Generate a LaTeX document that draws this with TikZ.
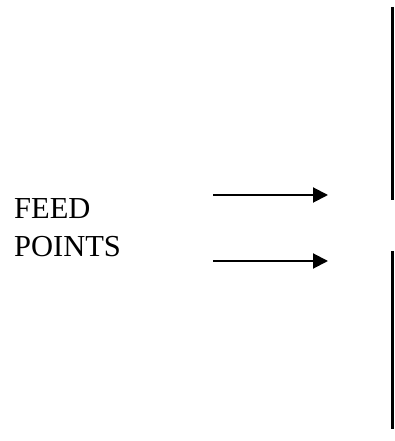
\documentclass[tikz,border=0pt]{standalone}
\usepackage{fontspec}
\setmainfont{Liberation Serif}
\usetikzlibrary{arrows.meta}
\begin{document}
\begin{tikzpicture}[x=1pt,y=1pt,
  feedarrow/.style={line width=2pt,-{Triangle[length=15pt,width=15pt]}},
  element/.style={line width=2.5pt},
  lbl/.style={anchor=base west,inner sep=0pt,font=\fontsize{30.5}{38}\selectfont}]
\useasboundingbox (0,0) rectangle (394,441);
\node[lbl] (feed) at (14,222) {FEED};
\node[lbl] (points) at (14,184) {POINTS};
\coordinate (a1s) at (213,246);
\coordinate (a1e) at (328,246);
\coordinate (a2s) at (213,180);
\coordinate (a2e) at (328,180);
\draw[feedarrow] (a1s) -- (a1e);
\draw[feedarrow] (a2s) -- (a2e);
\coordinate (t1) at (392.7,434);
\coordinate (t2) at (392.7,241);
\coordinate (b1) at (392.7,190);
\coordinate (b2) at (392.7,12);
\draw[element] (t1) -- (t2);
\draw[element] (b1) -- (b2);
\end{tikzpicture}
\end{document}
